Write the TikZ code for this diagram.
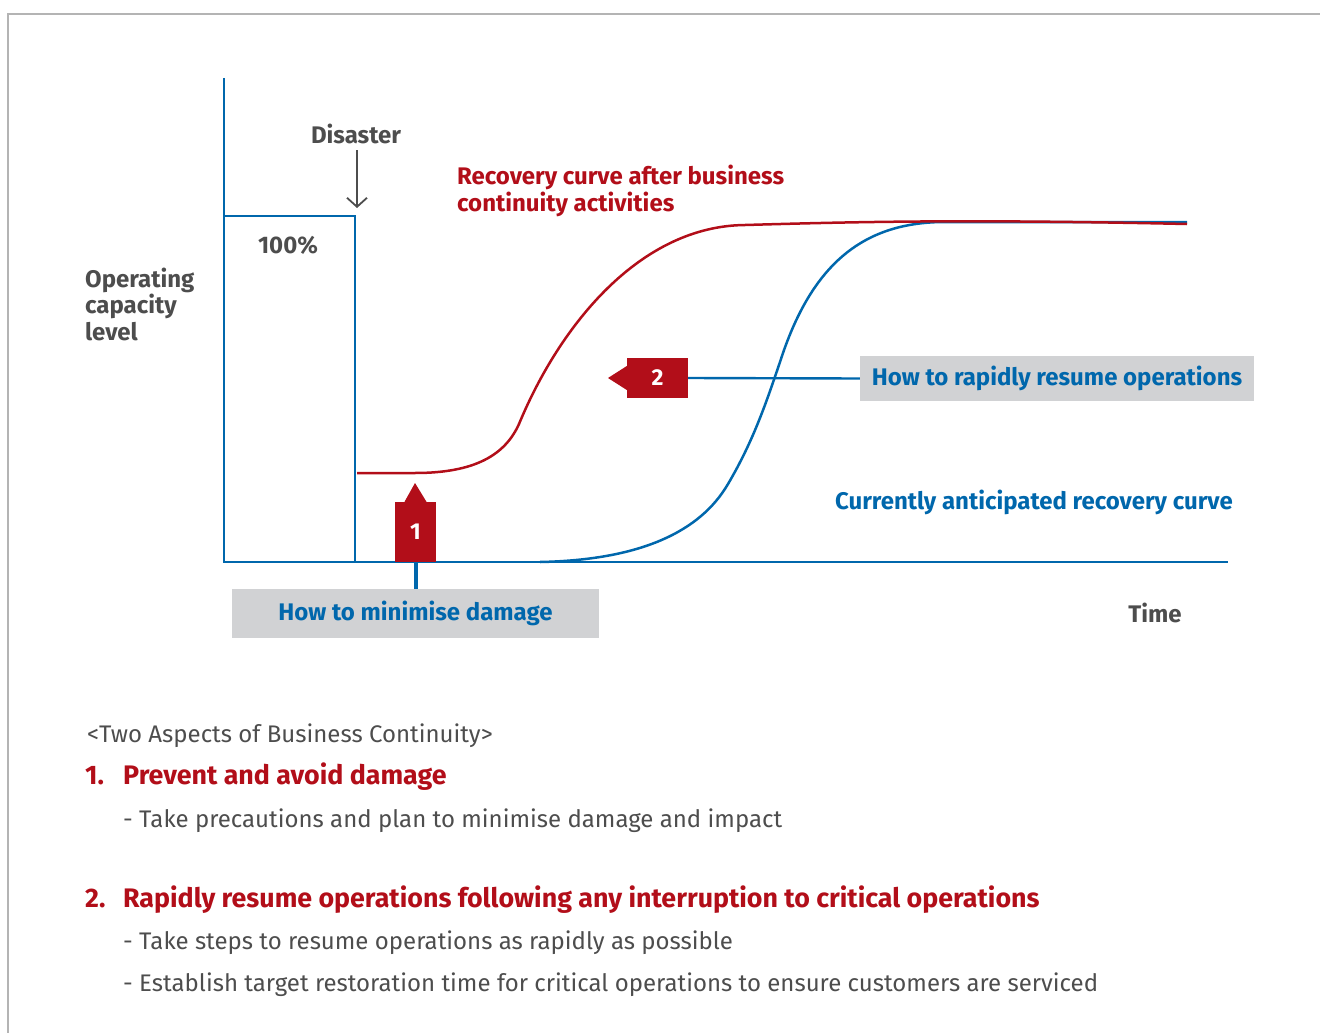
\documentclass[tikz,border=0pt]{standalone}
\usepackage{fontspec}
\setmainfont{Fira Sans}
\usetikzlibrary{arrows.meta,positioning,calc}
\definecolor{bcred}{HTML}{B20E19}
\definecolor{bcblue}{HTML}{0067AC}
\definecolor{bcgray}{HTML}{D1D2D4}
\definecolor{bctext}{HTML}{4D4D4D}
\definecolor{bcframe}{HTML}{B4B4B4}

\begin{document}
\begin{tikzpicture}[x=1pt, y=-1pt,
  axis/.style={bcblue, line width=2.6pt},
  curve/.style={line width=2.5pt},
  lbl/.style={inner sep=0, font=\fontsize{24}{26.5}\selectfont\bfseries, text=bctext},
  redlbl/.style={lbl, text=bcred},
  bluelbl/.style={lbl, text=bcblue},
  grybox/.style={fill=bcgray, inner sep=0, font=\fontsize{24}{26.5}\selectfont\bfseries, text=bcblue},
  marker/.style={fill=bcred, inner sep=0, minimum width=#1, text=white, font=\fontsize{23}{26}\selectfont\bfseries},
  body/.style={inner sep=0, anchor=base west, font=\fontsize{24}{28}\selectfont, text=bctext},
  head/.style={inner sep=0, anchor=base west, font=\fontsize{26.8}{30}\selectfont\bfseries, text=bcred}
]
  \useasboundingbox (0,0) rectangle (1320,1033);
  % frame
  \draw[bcframe, line width=1.5pt] (1320,14) -- (8,14) -- (8,1033);

  % axes and the 100% level
  \coordinate (origin) at (224,562);
  \draw[axis] (224,78) -- (origin) -- (1228,562);
  \draw[axis] (224,216) -- (355,216) -- (355,562);

  \node[lbl, anchor=base] (disaster) at (356,143) {Disaster};
  \coordinate (hit) at (357,208);
  \draw[-{Straight Barb[length=9pt, width=20pt]}, bctext, line width=1.8pt] (357,150) -- (hit);
  \node[lbl, anchor=base] (full) at (288,253) {100\%};
  \node[lbl, anchor=base west, align=left] (ylabel) at (85,340)
    {Operating\\capacity\\level};
  \node[lbl, anchor=base] (time) at (1155,622) {Time};

  % recovery curves
  \draw[curve, bcblue] (540,562) .. controls (640,560) and (700,532) .. (728,484)
    .. controls (754,440) and (767,400) .. (780,362)
    .. controls (812,262) and (865,222) .. (945,222) -- (1187,222);
  \draw[curve, bcred] (357,473) -- (415,473) .. controls (475,473) and (505,455) .. (519,424)
    .. controls (560,325) and (640,226) .. (745,225)
    .. controls (850,222) and (960,219) .. (1187,224);

  \node[redlbl, anchor=base west, align=left] (redname) at (457,211)
    {Recovery curve after business\\continuity activities};
  \node[bluelbl, anchor=base east] (bluename) at (1233,509) {Currently anticipated recovery curve};

  % marker 1
  \node[marker=41pt, minimum height=60pt] (m1) at (415.5,532) {1};
  \fill[bcred] ($(m1.north)+(-11,0)$) -- (415,483) -- ($(m1.north)+(11,0)$) -- cycle;
  \node[grybox, minimum width=367pt, minimum height=49pt] (box1) at (415.5,613.5) {How to minimise damage};
  \draw[bcblue, line width=4pt] (m1.south) -- (box1.north);

  % marker 2
  \node[marker=61pt, minimum height=40pt] (m2) at (657.5,378) {2};
  \fill[bcred] ($(m2.west)+(0,-12)$) -- (608,378) -- ($(m2.west)+(0,12)$) -- cycle;
  \node[grybox, minimum width=394pt, minimum height=45pt] (box2) at (1057,378.5) {How to rapidly resume operations};
  \draw[bcblue, line width=2.4pt] (m2.east) -- (box2.west);

  % two aspects
  \node[body] (title) at (87,742) {<Two Aspects of Business Continuity>};
  \node[head] (n1) at (85,784) {1.};
  \node[head] (h1) at (123,784) {Prevent and avoid damage};
  \node[body] (s1) at (123,827) {- Take precautions and plan to minimise damage and impact};
  \node[head] (n2) at (85,907) {2.};
  \node[head] (h2) at (123,907) {Rapidly resume operations following any interruption to critical operations};
  \node[body] (s2) at (123,949) {- Take steps to resume operations as rapidly as possible};
  \node[body] (s3) at (123,991) {- Establish target restoration time for critical operations to ensure customers are serviced};
\end{tikzpicture}
\end{document}
